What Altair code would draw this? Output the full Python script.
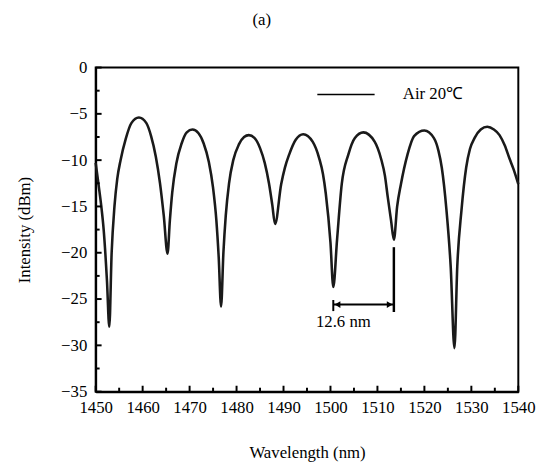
import altair as alt
import pandas as pd

# Spectrum (wavelength nm, intensity dBm)
wl = [1450.0, 1450.6, 1451.2, 1451.7, 1452.4, 1452.9,
      1453.4, 1454.0, 1454.6, 1455.3, 1456.4, 1457.6, 1459.2, 1460.8, 1461.8, 1462.8, 1463.7, 1464.5, 1465.3,
      1465.8, 1466.3, 1467.2, 1468.3, 1469.4, 1470.6, 1471.9, 1473.0, 1474.1, 1475.0, 1475.7, 1476.2, 1476.7,
      1477.2, 1477.7, 1478.4, 1479.3, 1480.5, 1481.6, 1482.6, 1483.8, 1485.0, 1486.0, 1486.9, 1487.6, 1488.2,
      1489.5, 1490.3, 1491.2, 1492.6, 1494.2, 1496.2, 1497.6, 1498.4, 1499.0, 1500.0, 1500.6,
      1501.4, 1502.4, 1503.8, 1505.2, 1507.0, 1509.4, 1510.8, 1511.6, 1512.2, 1512.9, 1513.5,
      1514.2, 1515.0, 1516.4, 1517.8, 1520.0, 1522.0, 1523.0, 1523.7, 1524.7, 1525.6, 1526.4,
      1527.0, 1527.9, 1528.9, 1529.7, 1530.7, 1532.0, 1533.4, 1534.8, 1536.0, 1537.1, 1538.1, 1539.0, 1540.0]
intensity = [-10.3, -12.6, -15.0, -17.5, -23.0, -28.0,
             -20.0, -15.0, -12.0, -10.0, -7.7, -6.0, -5.4, -6.0, -7.4, -9.6, -12.5, -16.0, -20.1,
             -16.5, -13.5, -10.3, -8.2, -7.0, -6.7, -7.1, -8.2, -10.2, -13.0, -16.5, -20.5, -25.8,
             -20.0, -16.0, -12.5, -10.0, -8.3, -7.5, -7.3, -7.6, -8.7, -10.3, -12.5, -14.8, -16.9,
             -12.6, -10.8, -9.4, -7.8, -7.2, -8.0, -9.8, -11.5, -13.6, -18.9, -23.7,
             -18.6, -12.6, -9.4, -7.6, -7.0, -8.0, -9.9, -11.7, -14.0, -16.5, -18.6,
             -15.0, -12.6, -9.4, -7.4, -6.8, -7.6, -9.0, -10.8, -15.4, -21.5, -30.3,
             -21.5, -15.4, -10.8, -8.8, -7.6, -6.7, -6.4, -6.7, -7.3, -8.4, -9.8, -11.0, -12.6]

x_ticks = list(range(1450, 1541, 5))
y_ticks = [0, -2.5, -5, -7.5, -10, -12.5, -15, -17.5, -20, -22.5, -25, -27.5, -30, -32.5, -35]

# Annotation values
fsr_left = 1500.6
fsr_right = 1513.5
fsr_y = -25.6
fsr_rule_top = -19.4
fsr_rule_bottom = -26.4
fsr_label = "12.6 nm"
fsr_label_x = 1496.9
fsr_label_y = -27.5
legend_x1 = 1497.2
legend_x2 = 1509.4
legend_y = -2.9
legend_text_x = 1515.4
legend_label = "Air 20℃"

FONT = "Liberation Serif"
W, H = 429, 329

df = pd.DataFrame({"wl": wl, "i": intensity})
xs = alt.Scale(domain=[1450, 1540], nice=False, zero=False)
ys = alt.Scale(domain=[-35, 0], nice=False, zero=False)

line = alt.Chart(df).mark_line(color="#1a1a1a", strokeWidth=2.6, interpolate="monotone").encode(
    x=alt.X("wl:Q", scale=xs, title="Wavelength (nm)",
            axis=alt.Axis(values=list(range(1450, 1541, 10)), format="d", tickSize=0,
                          labelPadding=8, titlePadding=30, grid=False,
                          labelOverlap=False, labelBound=False, labelFlush=False)),
    y=alt.Y("i:Q", scale=ys, title="Intensity (dBm)",
            axis=alt.Axis(values=[0, -5, -10, -15, -20, -25, -30, -35], tickSize=0,
                          labelPadding=9, titlePadding=28, grid=False,
                          labelOverlap=False, labelBound=False, labelFlush=False)),
)

xt = pd.DataFrame({"t": x_ticks, "major": [t % 10 == 0 for t in x_ticks]})
xtick_major = alt.Chart(xt[xt.major]).mark_rule(color="black", strokeWidth=2).encode(
    x=alt.X("t:Q", scale=xs), y=alt.value(H), y2=alt.value(H - 6))
xtick_minor = alt.Chart(xt[~xt.major]).mark_rule(color="black", strokeWidth=2).encode(
    x=alt.X("t:Q", scale=xs), y=alt.value(H), y2=alt.value(H - 4))

yt = pd.DataFrame({"t": y_ticks, "major": [t % 5 == 0 for t in y_ticks]})
ytick_major = alt.Chart(yt[yt.major]).mark_rule(color="black", strokeWidth=2).encode(
    y=alt.Y("t:Q", scale=ys), x=alt.value(0), x2=alt.value(6))
ytick_minor = alt.Chart(yt[~yt.major]).mark_rule(color="black", strokeWidth=2).encode(
    y=alt.Y("t:Q", scale=ys), x=alt.value(0), x2=alt.value(4))

ann = pd.DataFrame({"x1": [fsr_left], "x2": [fsr_right], "y": [fsr_y]})
hrule = alt.Chart(ann).mark_rule(color="black", strokeWidth=2).encode(
    x=alt.X("x1:Q", scale=xs), x2="x2:Q", y=alt.Y("y:Q", scale=ys))
vr = pd.DataFrame({"x": [fsr_right], "y1": [fsr_rule_top], "y2": [fsr_rule_bottom]})
vrule = alt.Chart(vr).mark_rule(color="black", strokeWidth=2.5).encode(
    x=alt.X("x:Q", scale=xs), y=alt.Y("y1:Q", scale=ys), y2="y2:Q")
lv = pd.DataFrame({"x": [fsr_left], "y1": [fsr_y + 0.5], "y2": [fsr_y - 0.7]})
lrule = alt.Chart(lv).mark_rule(color="black", strokeWidth=2).encode(
    x=alt.X("x:Q", scale=xs), y=alt.Y("y1:Q", scale=ys), y2="y2:Q")
heads = pd.DataFrame({"x": [fsr_left + 0.9, fsr_right - 0.9], "y": [fsr_y, fsr_y],
                      "s": ["triangle-left", "triangle-right"]})
arrowheads = alt.Chart(heads).mark_point(filled=True, color="black", size=45, opacity=1).encode(
    x=alt.X("x:Q", scale=xs), y=alt.Y("y:Q", scale=ys),
    shape=alt.Shape("s:N", scale=None, legend=None))
lab = pd.DataFrame({"x": [fsr_label_x], "y": [fsr_label_y], "t": [fsr_label]})
fsr_text = alt.Chart(lab).mark_text(align="left", baseline="middle", font=FONT, fontSize=17,
                                    color="black").encode(
    x=alt.X("x:Q", scale=xs), y=alt.Y("y:Q", scale=ys), text="t:N")

leg = pd.DataFrame({"x1": [legend_x1], "x2": [legend_x2], "y": [legend_y]})
leg_line = alt.Chart(leg).mark_rule(color="black", strokeWidth=1.5).encode(
    x=alt.X("x1:Q", scale=xs), x2="x2:Q", y=alt.Y("y:Q", scale=ys))
legt = pd.DataFrame({"x": [legend_text_x], "y": [legend_y], "t": [legend_label]})
leg_text = alt.Chart(legt).mark_text(align="left", baseline="middle", font=FONT, fontSize=17,
                                     color="black").encode(
    x=alt.X("x:Q", scale=xs), y=alt.Y("y:Q", scale=ys), text="t:N")

chart = alt.layer(
    line, xtick_major, xtick_minor, ytick_major, ytick_minor,
    hrule, vrule, lrule, arrowheads, fsr_text, leg_line, leg_text
).properties(
    width=W, height=H,
    background="white",
    title=alt.TitleParams("(a)", anchor="middle", baseline="middle", offset=22, dx=-46),
    autosize=alt.AutoSizeParams(type="none"),
    padding={"left": 89, "top": 57, "right": 21, "bottom": 70},
).configure_view(
    stroke="black", strokeWidth=2
).configure_title(
    font=FONT, fontSize=17, fontWeight="normal", color="black"
).configure_text(
    font=FONT
).configure_axis(
    domainColor="black", domainWidth=2, labelFont=FONT, labelFontSize=17, labelColor="black",
    titleFont=FONT, titleFontSize=17, titleFontWeight="normal", titleColor="black"
)

chart.save("out.html", embed_options={"renderer": "svg", "actions": False})
